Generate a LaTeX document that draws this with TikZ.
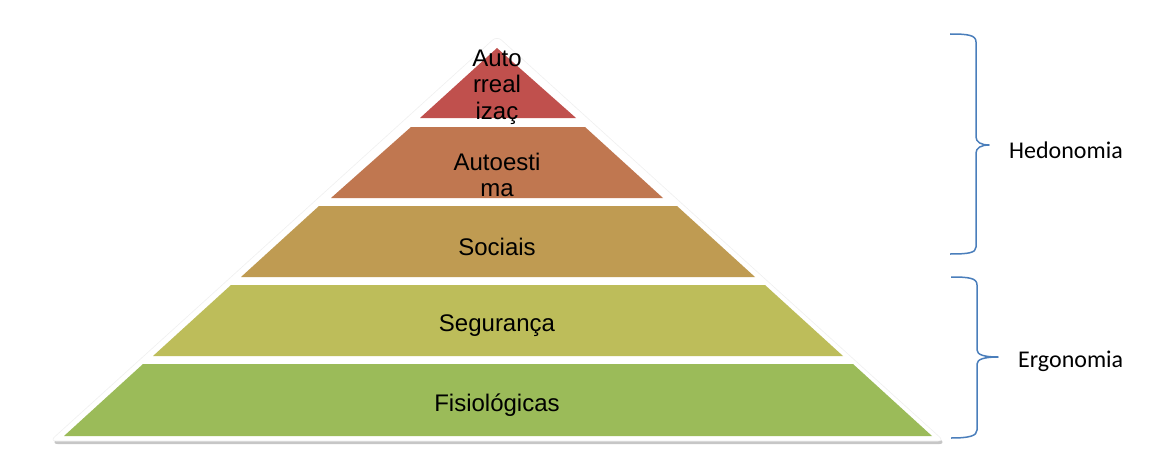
\documentclass[tikz,border=0pt]{standalone}
\usepackage{fontspec}
\setmainfont{Liberation Sans}
\newfontfamily\calib{Carlito}
\usetikzlibrary{shadows}
\definecolor{cRed}{RGB}{192,80,77}
\definecolor{cOrange}{RGB}{192,119,80}
\definecolor{cTan}{RGB}{191,155,82}
\definecolor{cOlive}{RGB}{189,189,90}
\definecolor{cGreen}{RGB}{155,187,89}
\definecolor{cBrace}{RGB}{74,126,187}
\tikzset{
  outer/.style={fill=white, draw=black!6, line width=0.6pt, rounded corners=6pt,
    drop shadow={opacity=0.45, shadow xshift=1.5pt, shadow yshift=-3pt}},
  layertext/.style={font=\fontsize{24}{26.5}\selectfont, align=center, inner sep=0pt, text=black},
  bracepath/.style={draw=cBrace, line width=1.5pt, line join=round},
  bracelabel/.style={font=\calib\fontsize{24}{28}\selectfont, anchor=west, inner sep=0pt}
}
\begin{document}
\begin{tikzpicture}[x=1pt,y=-1pt]
\useasboundingbox (0,0) rectangle (1172,452);
% outer white pyramid with shadow
\path[outer] (497,36) -- (944,441) -- (50,441) -- cycle;
% layers
\fill[cRed] (497,48) -- (576,118) -- (420,118) -- cycle;
\fill[cOrange] (411,127) -- (585,127) -- (663,198) -- (331,198) -- cycle;
\fill[cTan] (319,206) -- (677,206) -- (755,277) -- (241,277) -- cycle;
\fill[cOlive] (231,285) -- (765,285) -- (843,356) -- (153,356) -- cycle;
\fill[cGreen] (143,364) -- (853,364) -- (932,436) -- (64,436) -- cycle;
% texts
\node[layertext] (auto) at (497,87) {Auto\\rreal\\izaç};
\node[layertext] (estima) at (497,175) {Autoesti\\ma};
\node[layertext] (sociais) at (497,247) {Sociais};
\node[layertext] (seguranca) at (497,326) {Segurança};
\node[layertext] (fisio) at (497,405) {Fisiológicas};
% braces
\draw[bracepath] (950,34) .. controls (968,34) and (976,35) .. (976,42) -- (976,137)
  .. controls (976,142) and (981,145) .. (989,145)
  .. controls (981,145) and (976,148) .. (976,153) -- (976,247)
  .. controls (976,253) and (968,254) .. (950,254);
\draw[bracepath] (951,277) .. controls (969,277) and (977,278) .. (977,285) -- (977,350)
  .. controls (977,355) and (985,357) .. (998,357)
  .. controls (985,357) and (977,359) .. (977,364) -- (977,430)
  .. controls (977,436) and (969,438) .. (951,438);
\node[bracelabel] (hed) at (1009,150) {Hedonomia};
\node[bracelabel] (erg) at (1018,361) {Ergonomia};
\end{tikzpicture}
\end{document}
